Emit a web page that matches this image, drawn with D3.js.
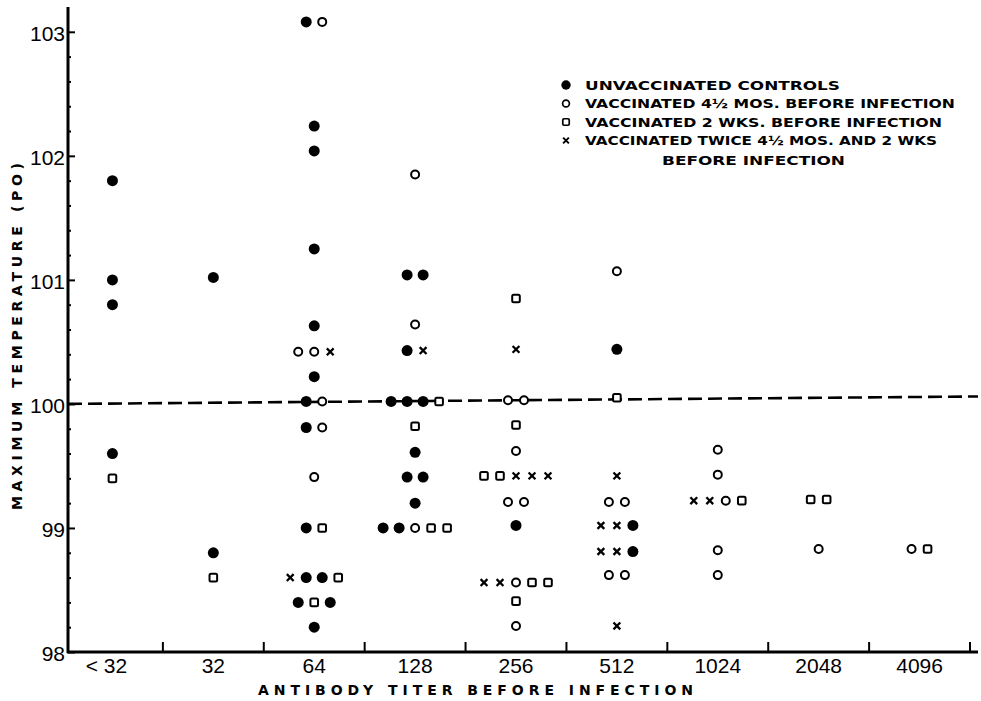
<!DOCTYPE html>
<html>
<head>
<meta charset="utf-8">
<script src="https://cdn.jsdelivr.net/npm/d3@7"></script>
<style>
    body { margin: 0; background: #fff; }
    svg { display: block; }
</style>
</head>
<body>
<div id="chart"></div>
<script>
// antibody titer categories along the x axis
const titers = ["<32", "32", "64", "128", "256", "512", "1024", "2048", "4096"];
const tempTicks = [98, 99, 100, 101, 102, 103];

// u = unvaccinated, v = vaccinated 4 1/2 mos, w = vaccinated 2 wks, t = vaccinated twice
const seriesKeys = ["u", "v", "w", "t"];
const seriesNames = [
    "UNVACCINATED CONTROLS",
    "VACCINATED 4½ MOS. BEFORE INFECTION",
    "VACCINATED 2 WKS. BEFORE INFECTION",
    "VACCINATED TWICE 4½ MOS. AND 2 WKS"
];

// each row: titer, max temperature, symbols placed left to right at that level
const observations = [
    ["<32", 101.8, "u"], ["<32", 101.0, "u"], ["<32", 100.8, "u"], ["<32", 99.6, "u"], ["<32", 99.4, "w"],

    ["32", 101.02, "u"], ["32", 98.8, "u"], ["32", 98.6, "w"],

    ["64", 103.08, "uv"], ["64", 102.24, "u"], ["64", 102.04, "u"], ["64", 101.25, "u"], ["64", 100.63, "u"],
    ["64", 100.42, "vvt"], ["64", 100.22, "u"], ["64", 100.02, "uv"], ["64", 99.81, "uv"], ["64", 99.41, "v"],
    ["64", 99.0, "uw"], ["64", 98.6, "tuuw"], ["64", 98.4, "uwu"], ["64", 98.2, "u"],

    ["128", 101.85, "v"], ["128", 101.04, "uu"], ["128", 100.64, "v"], ["128", 100.43, "ut"],
    ["128", 100.02, "uuuw"], ["128", 99.82, "w"], ["128", 99.61, "u"], ["128", 99.41, "uu"],
    ["128", 99.2, "u"], ["128", 99.0, "uuvww"],

    ["256", 100.85, "w"], ["256", 100.44, "t"], ["256", 100.03, "vv"], ["256", 99.83, "w"], ["256", 99.62, "v"],
    ["256", 99.42, "wwttt"], ["256", 99.21, "vv"], ["256", 99.02, "u"], ["256", 98.56, "ttvww"],
    ["256", 98.41, "w"], ["256", 98.21, "v"],

    ["512", 101.07, "v"], ["512", 100.44, "u"], ["512", 100.05, "w"], ["512", 99.42, "t"], ["512", 99.21, "vv"],
    ["512", 99.02, "ttu"], ["512", 98.81, "ttu"], ["512", 98.62, "vv"], ["512", 98.21, "t"],

    ["1024", 99.63, "v"], ["1024", 99.43, "v"], ["1024", 99.22, "ttvw"], ["1024", 98.82, "v"], ["1024", 98.62, "v"],

    ["2048", 99.23, "ww"], ["2048", 98.83, "v"],

    ["4096", 98.83, "vw"]
];

// dashed reference line, start and end temperature as drawn
const refTemp = [100, 100.06];

function drawMark(sel, key, s) {
    if (key === "u") {
        sel.append("circle").attr("r", 5.5 * s).attr("fill", "#000");
    } else if (key === "v") {
        sel.append("circle").attr("r", 4 * s).attr("fill", "#fff")
            .attr("stroke", "#000").attr("stroke-width", 2 * s);
    } else if (key === "w") {
        sel.append("rect")
            .attr("x", -3.8 * s).attr("y", -3.8 * s)
            .attr("width", 7.6 * s).attr("height", 7.6 * s)
            .attr("rx", 1.5 * s)
            .attr("fill", "#fff").attr("stroke", "#000").attr("stroke-width", 2 * s);
    } else {
        const a = 3.4 * s;
        sel.append("path")
            .attr("d", `M${-a},${-a}L${a},${a}M${-a},${a}L${a},${-a}`)
            .attr("stroke", "#000").attr("stroke-width", 2.3 * s).attr("fill", "none");
    }
}

function drawChart() {
    const width = 981, height = 701;
    const axisX = 68, axisY = 652, rightEnd = 978;
    const slotW = 16;

    const svg = d3.select("#chart").append("svg")
        .attr("width", width)
        .attr("height", height)
        .style("background", "#fff");

    const x = d3.scaleBand().domain(titers).range([62, 970]).padding(0);
    const y = d3.scaleLinear().domain([98, 103.2]).range([axisY, 7]);

    // y axis: ticks point inwards, labels left
    const yAxis = svg.append("g")
        .attr("transform", `translate(${axisX},0)`)
        .call(d3.axisLeft(y).tickValues(tempTicks).tickSize(-7).tickSizeOuter(0).tickPadding(3).tickFormat(d3.format("d")));
    yAxis.select(".domain").remove();
    yAxis.selectAll("line").attr("stroke-width", 2);
    yAxis.selectAll("text")
        .attr("dy", "0.42em")
        .style("font-family", "'Liberation Sans', Arial, sans-serif")
        .style("font-size", "21px")
        .attr("fill", "#000");

    const minorTicks = d3.range(98.2, 103.2, 0.2).filter((d) => Math.abs(d - Math.round(d)) > 0.05);
    svg.append("g")
        .attr("transform", `translate(${axisX},0)`)
        .call(d3.axisLeft(y).tickValues(minorTicks).tickSize(-3).tickFormat(""))
        .call((g) => g.select(".domain").remove())
        .selectAll("line")
        .attr("stroke-width", 2);

    svg.append("line")
        .attr("x1", axisX).attr("x2", axisX)
        .attr("y1", y.range()[1]).attr("y2", axisY + 1)
        .attr("stroke", "#000").attr("stroke-width", 3);

    // x axis labels
    const xAxis = svg.append("g")
        .attr("transform", `translate(0,${axisY})`)
        .call(d3.axisBottom(x).tickSize(0).tickPadding(6).tickFormat((d) => d === "<32" ? "< 32" : d));
    xAxis.select(".domain").remove();
    xAxis.selectAll("text")
        .style("font-family", "'Liberation Sans', Arial, sans-serif")
        .style("font-size", "21px")
        .attr("fill", "#000")
        .attr("dx", (d) => d === "<32" ? -6 : 0);

    svg.append("line")
        .attr("x1", axisX - 1).attr("x2", rightEnd)
        .attr("y1", axisY).attr("y2", axisY)
        .attr("stroke", "#000").attr("stroke-width", 3);

    // band boundary ticks pointing up
    svg.append("g")
        .selectAll("line")
        .data(titers)
        .join("line")
        .attr("x1", (d) => x(d) + x.bandwidth())
        .attr("x2", (d) => x(d) + x.bandwidth())
        .attr("y1", axisY)
        .attr("y2", axisY - 10)
        .attr("stroke", "#000")
        .attr("stroke-width", 2);

    // dashed 100 degree line
    svg.append("line")
        .attr("x1", axisX).attr("x2", rightEnd)
        .attr("y1", y(refTemp[0])).attr("y2", y(refTemp[1]))
        .attr("stroke", "#000")
        .attr("stroke-width", 2.6)
        .attr("stroke-dasharray", "14,6");

    // points, dodged side by side within a row
    const points = observations.flatMap(([titer, temp, marks]) =>
        marks.split("").map((key, i, arr) => ({titer, temp, key, slot: i - (arr.length - 1) / 2}))
    );

    svg.append("g")
        .selectAll("g")
        .data(points)
        .join("g")
        .attr("transform", (d) => `translate(${x(d.titer) + x.bandwidth() / 2 + d.slot * slotW},${y(d.temp)})`)
        .each(function (d) {
            drawMark(d3.select(this), d.key, 1);
        });

    // legend
    const legendLens = [255, 370, 357, 352];
    const legend = svg.append("g")
        .selectAll("g")
        .data(seriesKeys)
        .join("g")
        .attr("transform", (d, i) => `translate(566,${85 + i * 18.5})`);

    legend.each(function (d) {
        drawMark(d3.select(this), d, 0.85);
    });

    legend.append("text")
        .attr("x", 19)
        .attr("y", 4.6)
        .attr("textLength", (d, i) => legendLens[i])
        .attr("lengthAdjust", "spacingAndGlyphs")
        .style("font-family", "'DejaVu Sans', sans-serif")
        .style("font-weight", "bold")
        .style("font-size", "12.5px")
        .text((d, i) => seriesNames[i]);

    svg.append("text")
        .attr("x", 662)
        .attr("y", 160 + 4.6)
        .attr("textLength", 183)
        .attr("lengthAdjust", "spacingAndGlyphs")
        .style("font-family", "'DejaVu Sans', sans-serif")
        .style("font-weight", "bold")
        .style("font-size", "12.5px")
        .text("BEFORE INFECTION");

    // axis titles
    svg.append("text")
        .attr("x", 258)
        .attr("y", 695)
        .attr("textLength", 435)
        .attr("lengthAdjust", "spacing")
        .style("font-family", "'DejaVu Sans', sans-serif")
        .style("font-weight", "bold")
        .style("font-size", "14px")
        .text("ANTIBODY  TITER  BEFORE  INFECTION");

    svg.append("text")
        .attr("transform", "translate(22,510) rotate(-90)")
        .attr("textLength", 347)
        .attr("lengthAdjust", "spacing")
        .style("font-family", "'DejaVu Sans', sans-serif")
        .style("font-weight", "bold")
        .style("font-size", "14px")
        .text("MAXIMUM  TEMPERATURE  (PO)");
}

drawChart();
</script>
</body>
</html>
